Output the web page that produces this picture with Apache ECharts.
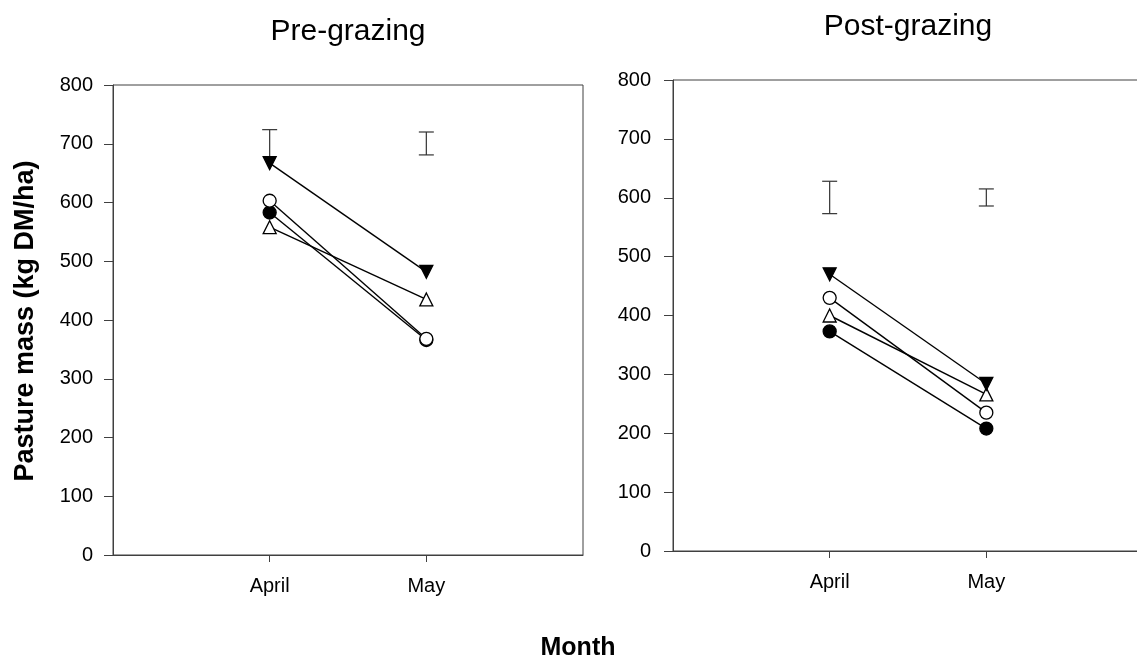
<!DOCTYPE html>
<html>
<head>
<meta charset="utf-8">
<script src="https://cdn.jsdelivr.net/npm/echarts@6/dist/echarts.min.js"></script>
<style>
html,body{margin:0;padding:0;background:#fff;}
#c{width:1137px;height:661px;}
</style>
</head>
<body>
<div id="c"></div>
<script>
const months = ['April', 'May'];
const yTicks = [0, 800, 100];
// Pre-grazing
const preFilledCircle = [583, 366];
const preOpenCircle = [603, 368];
const preFilledDown = [667, 482];
const preOpenUp = [558, 435];
const preErrHigh = [724, 720];
const preErrLow = [668, 681];
const preCapLow = [false, true];
// Post-grazing
const postFilledCircle = [373, 208];
const postOpenCircle = [430, 235];
const postFilledDown = [470, 284];
const postOpenUp = [400, 266];
const postErrHigh = [628, 615];
const postErrLow = [573, 586];
const postCapLow = [true, true];

const cats = [''].concat(months, ['']);
const FONT = 'Liberation Sans, Arial, sans-serif';
const AX = '#404040';

function pad(vals) { return vals.map((v, i) => [i + 1, v]); }

function xAxis(gi) {
  return {
    type: 'category', gridIndex: gi, data: cats, boundaryGap: false,
    axisLine: { show: true, lineStyle: { color: AX, width: 1 } },
    axisTick: { show: true, length: 7, inside: false, interval: (i, v) => v !== '', lineStyle: { color: AX } },
    axisLabel: { color: '#000', fontSize: 20, fontFamily: FONT, margin: 21, interval: 0 },
    splitLine: { show: false }
  };
}
function yAxis(gi, margin) {
  return {
    type: 'value', gridIndex: gi, min: yTicks[0], max: yTicks[1], interval: yTicks[2],
    axisLine: { show: true, lineStyle: { color: AX, width: 1 } },
    axisTick: { show: true, length: 9, inside: false, lineStyle: { color: AX } },
    axisLabel: { color: '#000', fontSize: 20, fontFamily: FONT, margin: margin },
    splitLine: { show: false }
  };
}
function lineSeries(gi, vals, symbol, filled, rotate) {
  return {
    type: 'line', xAxisIndex: gi, yAxisIndex: gi, data: pad(vals),
    symbol: symbol, symbolSize: 13, symbolRotate: rotate || 0, showSymbol: true,
    lineStyle: { color: '#000', width: 1.4 },
    itemStyle: { color: filled ? '#000' : '#fff', borderColor: '#000', borderWidth: 1.3 },
    animation: false, z: 3
  };
}
function errSeries(gi, low, high, capLow) {
  return {
    type: 'custom', xAxisIndex: gi, yAxisIndex: gi,
    data: low.map((l, i) => [i + 1, l, high[i], capLow[i] ? 1 : 0]),
    renderItem: function (params, api) {
      const x = api.value(0);
      const lo = api.coord([x, api.value(1)]);
      const hi = api.coord([x, api.value(2)]);
      const hw = 7.5;
      const st = { stroke: '#333', lineWidth: 1.2 };
      const children = [
        { type: 'line', shape: { x1: lo[0], y1: lo[1], x2: hi[0], y2: hi[1] }, style: st },
        { type: 'line', shape: { x1: hi[0] - hw, y1: hi[1], x2: hi[0] + hw, y2: hi[1] }, style: st }
      ];
      if (api.value(3)) children.push({ type: 'line', shape: { x1: lo[0] - hw, y1: lo[1], x2: lo[0] + hw, y2: lo[1] }, style: st });
      return { type: 'group', children: children };
    },
    animation: false, z: 2
  };
}

const chart = echarts.init(document.getElementById('c'), null, { renderer: 'canvas' });
chart.setOption({
  backgroundColor: '#fff',
  animation: false,
  title: [
    { text: 'Pre-grazing', left: 343, top: 12, textAlign: 'center', textStyle: { fontFamily: FONT, fontSize: 30, fontWeight: 'normal', color: '#000' } },
    { text: 'Post-grazing', left: 903, top: 7, textAlign: 'center', textStyle: { fontFamily: FONT, fontSize: 30, fontWeight: 'normal', color: '#000' } }
  ],
  grid: [
    { left: 113, top: 85, width: 470, height: 470, show: true, borderColor: AX, borderWidth: 1, backgroundColor: 'transparent', outerBoundsMode: 'none', containLabel: false },
    { left: 673, top: 80, width: 470, height: 471, show: true, borderColor: AX, borderWidth: 1, backgroundColor: 'transparent', outerBoundsMode: 'none', containLabel: false }
  ],
  xAxis: [xAxis(0), xAxis(1)],
  yAxis: [yAxis(0, 20), yAxis(1, 22)],
  graphic: [
    { type: 'text', x: 26, y: 321, rotation: Math.PI / 2, style: { text: 'Pasture mass (kg DM/ha)', fontFamily: FONT, fontSize: 27, fontWeight: 'bold', fill: '#000', align: 'center', verticalAlign: 'middle' } },
    { type: 'text', x: 578, y: 648, style: { text: 'Month', fontFamily: FONT, fontSize: 25, fontWeight: 'bold', fill: '#000', align: 'center', verticalAlign: 'middle' } }
  ],
  series: [
    errSeries(0, preErrLow, preErrHigh, preCapLow),
    lineSeries(0, preOpenUp, 'triangle', false),
    lineSeries(0, preFilledCircle, 'circle', true),
    lineSeries(0, preOpenCircle, 'circle', false),
    lineSeries(0, preFilledDown, 'triangle', true, 180),
    errSeries(1, postErrLow, postErrHigh, postCapLow),
    lineSeries(1, postFilledCircle, 'circle', true),
    lineSeries(1, postOpenUp, 'triangle', false),
    lineSeries(1, postOpenCircle, 'circle', false),
    lineSeries(1, postFilledDown, 'triangle', true, 180)
  ]
});
</script>
</body>
</html>
